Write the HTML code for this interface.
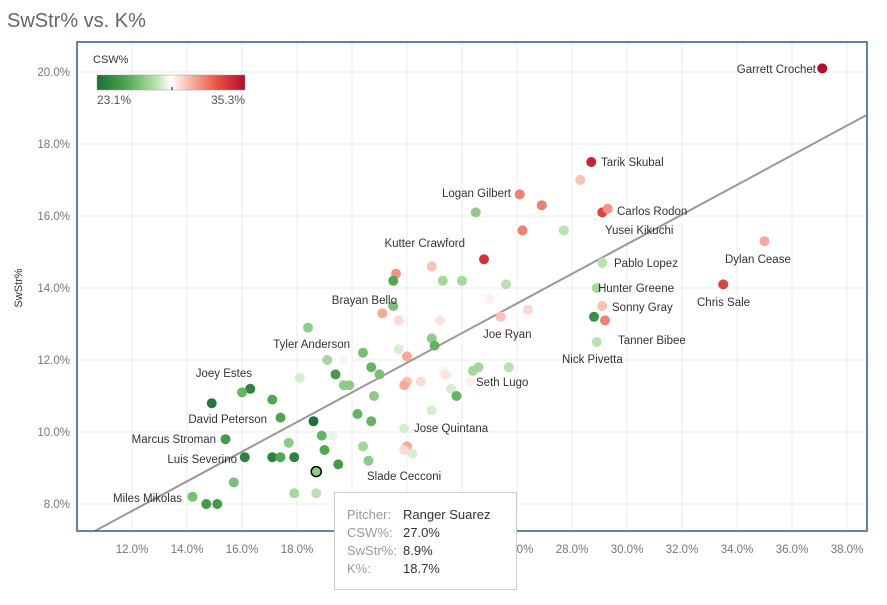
<!DOCTYPE html>
<html><head><meta charset="utf-8"><style>
body{margin:0;background:#fff;font-family:"Liberation Sans",sans-serif}
svg text{font-family:"Liberation Sans",sans-serif}
</style></head><body>
<svg id="c" width="887" height="600">
<defs><linearGradient id="lg" x1="0" x2="1">
<stop offset="0" stop-color="#1b6e35"/><stop offset="0.2" stop-color="#4fa84f"/><stop offset="0.4" stop-color="#b9e3ae"/><stop offset="0.5" stop-color="#ffffff"/><stop offset="0.65" stop-color="#f8a99a"/><stop offset="0.81" stop-color="#e8543f"/><stop offset="1" stop-color="#b60a2e"/></linearGradient></defs>
<text x="7" y="27" font-size="20" fill="#666">SwStr% vs. K%</text>
<g id="grid"></g><g id="line"></g><g id="pts"></g><g id="lbls"></g>
<rect x="77" y="42" width="790" height="489" fill="none" stroke="#2a5d8c" stroke-width="1.5"/>
<text transform="translate(22,288) rotate(-90)" text-anchor="middle" font-size="11" fill="#333">SwStr%</text>
<g>
<text x="93" y="63" font-size="11" fill="#333">CSW%</text>
<rect x="97" y="75" width="148" height="15" fill="url(#lg)" stroke="#999" stroke-width="0.5"/>
<line x1="172" y1="87" x2="172" y2="90" stroke="#000"/>
<text x="97" y="104" font-size="12" fill="#555">23.1%</text>
<text x="245" y="104" font-size="12" fill="#555" text-anchor="end">35.3%</text>
</g>
<g>
<rect x="334.5" y="492.5" width="182" height="97" fill="#fff" stroke="#ccc"/>
<g font-size="13">
<text x="347" y="519" fill="#999">Pitcher:</text><text x="403" y="519" fill="#333">Ranger Suarez</text>
<text x="347" y="537" fill="#999">CSW%:</text><text x="403" y="537" fill="#333">27.0%</text>
<text x="347" y="555" fill="#999">SwStr%:</text><text x="403" y="555" fill="#333">8.9%</text>
<text x="347" y="573" fill="#999">K%:</text><text x="403" y="573" fill="#333">18.7%</text>
</g></g>
</svg>
<script>
const xTicks=[12,14,16,18,20,22,24,26,28,30,32,34,36,38];
const yTicks=[8,10,12,14,16,18,20];
const kPct=[37.1,28.7,28.3,26.1,26.9,29.1,29.3,24.5,27.7,26.2,24.8,29.1,35.0,21.6,22.9,21.5,24.0,23.3,33.5,25.6,28.9,25.0,21.5,29.1,28.8,29.2,21.1,21.7,23.2,25.4,26.4,18.4,22.9,23.0,28.9,21.7,22.0,19.1,19.7,20.4,19.4,20.7,25.7,18.1,21.0,23.3,24.4,24.6,23.4,22.0,22.5,21.9,19.7,19.9,16.3,23.6,24.3,20.8,23.8,16.0,17.1,14.9,22.9,20.2,17.4,18.6,20.7,21.9,18.9,19.3,15.4,17.7,19.0,20.4,22.0,21.9,22.2,16.1,17.1,17.4,17.9,20.6,19.5,18.7,15.7,17.9,18.7,14.2,14.7,15.1];
const swStr=[20.1,17.5,17.0,16.6,16.3,16.1,16.2,16.1,15.6,15.6,14.8,14.7,15.3,14.4,14.6,14.2,14.2,14.2,14.1,14.1,14.0,13.7,13.5,13.5,13.2,13.1,13.3,13.1,13.1,13.2,13.4,12.9,12.6,12.4,12.5,12.3,12.1,12.0,12.0,12.2,11.6,11.8,11.8,11.5,11.6,11.7,11.7,11.8,11.6,11.4,11.4,11.3,11.3,11.3,11.2,11.2,11.4,11.0,11.0,11.1,10.9,10.8,10.6,10.5,10.4,10.3,10.3,10.1,9.9,9.9,9.8,9.7,9.5,9.6,9.6,9.5,9.4,9.3,9.3,9.3,9.3,9.2,9.1,8.9,8.6,8.3,8.3,8.2,8.0,8.0];
const csw=[35.3,34.5,30.5,32,32,33.5,31.5,27,28,32,34,28,31,31.5,30.5,25.5,27.5,27.5,33.5,28,27.5,29.5,26.5,30.5,24.5,32,31,30,29.8,30.5,30,27,27,26,28,28.5,31,27.5,29,26.5,25,26,28,28.5,26.5,29,27.5,27.5,29.8,30.5,30,31,27,27,24,28.5,29.5,27,26,26,25.5,23.5,28.5,26,25.5,23.2,26,28.5,26,28.8,25,27,25.5,27.5,31,30,28.5,24,24,25.5,24,27,25,27,26.5,27.5,28,26.5,25,25];
const regX=[10.65,38.7];
const regY=[7.25,18.8];
const labelNames=["Garrett Crochet","Tarik Skubal","Logan Gilbert","Carlos Rodon","Yusei Kikuchi","Kutter Crawford","Pablo Lopez","Dylan Cease","Hunter Greene","Chris Sale","Brayan Bello","Sonny Gray","Joe Ryan","Tanner Bibee","Tyler Anderson","Nick Pivetta","Joey Estes","Seth Lugo","David Peterson","Jose Quintana","Marcus Stroman","Luis Severino","Slade Cecconi","Miles Mikolas"];
const labelPos=[[816,73,"end"],[601,166,"start"],[511,197,"end"],[617,215,"start"],[605,234,"start"],[465,247,"end"],[614,267,"start"],[725,263,"start"],[598,292,"start"],[697,306,"start"],[397,304,"end"],[612,311,"start"],[483,338,"start"],[618,344,"start"],[350,348,"end"],[562,363,"start"],[252,377,"end"],[476,386,"start"],[267,423,"end"],[414,432,"start"],[216,443,"end"],[237,463,"end"],[367,480,"start"],[182,502,"end"]];
const X=v=>132+(v-12)*27.5, Y=v=>72+(20-v)*36;
const NS="http://www.w3.org/2000/svg";
function mk(t,a,p){const e=document.createElementNS(NS,t);for(const k in a)e.setAttribute(k,a[k]);p.appendChild(e);return e;}
const stops=[[23.1,[27,110,53]],[25.5,[79,168,79]],[28,[185,227,174]],[29.2,[255,255,255]],[31,[248,169,154]],[33,[232,84,63]],[35.3,[182,10,46]]];
function col(v){v=Math.max(23.1,Math.min(35.3,v));for(let i=0;i<stops.length-1;i++){const a=stops[i],b=stops[i+1];if(v<=b[0]){const t=(v-a[0])/(b[0]-a[0]);return "rgb("+a[1].map((c,j)=>Math.round(c+(b[1][j]-c)*t)).join(",")+")";}}return "rgb(182,10,46)";}
const g=document.getElementById('grid');
xTicks.forEach(t=>{const x=X(t);
const l=mk('line',{x1:x,x2:x,y1:42,y2:531,stroke:'#ececec'},g);


const tx=mk('text',{x:x,y:553,'text-anchor':'middle','font-size':11.5,fill:'#777'},g);tx.textContent=t.toFixed(1)+'%';

});
yTicks.forEach(t=>{const y=Y(t);
const l=mk('line',{x1:77,x2:867,y1:y,y2:y,stroke:'#ececec'},g);


const tx=mk('text',{x:70,y:y+4,'text-anchor':'end','font-size':11.5,fill:'#777'},g);tx.textContent=t.toFixed(1)+'%';

});
const rl=mk('line',{x1:X(regX[0]),y1:Y(regY[0]),x2:X(regX[1]),y2:Y(regY[1]),stroke:'#999','stroke-width':2},document.getElementById('line'));


const pg=document.getElementById('pts');
kPct.forEach((k,i)=>{const sel=(Math.abs(k-18.7)<0.01&&Math.abs(swStr[i]-8.9)<0.01);
const c=mk('circle',{cx:X(k),cy:Y(swStr[i]),r:5,fill:col(csw[i]),stroke:sel?'#000':'none','stroke-width':1.5},pg);

});
const lg=document.getElementById('lbls');
labelNames.forEach((n,i)=>{const p=labelPos[i];
const t=mk('text',{x:p[0],y:p[1],'text-anchor':p[2],'font-size':11.5,fill:'#333'},lg);t.textContent=n;

});
</script>
</body></html>
